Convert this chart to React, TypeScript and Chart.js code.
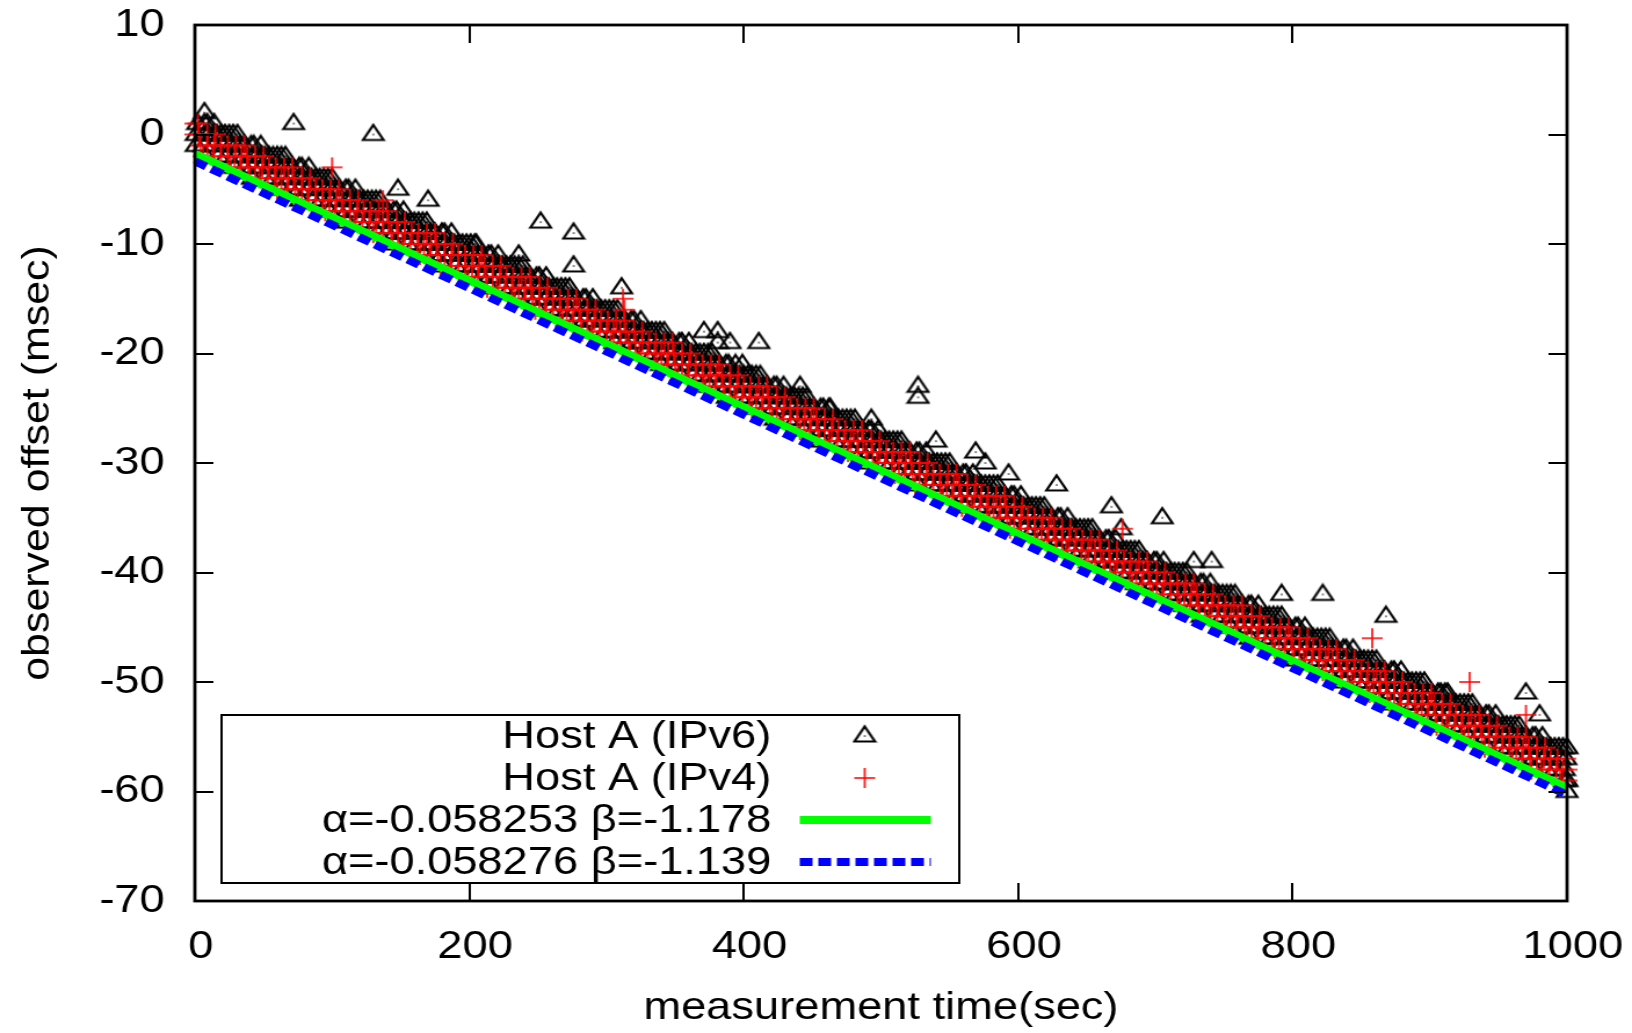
import React, { useEffect, useRef } from "react";
import { Chart, registerables } from "chart.js";

Chart.register(...registerables);

const FONT_FAMILY = "'Liberation Sans', Arial, Helvetica, sans-serif";
const FONT_SIZE = 39;

// The reference lettering is wide; the canvas is drawn narrower and widened by CSS.
const PAGE_W = 1632;
const PAGE_H = 1033;
const H_STRETCH = 1.16;
const CANVAS_W = Math.round(PAGE_W / H_STRETCH);

const X_TICKS = [0, 200, 400, 600, 800, 1000];
const Y_TICKS = [-70, -60, -50, -40, -30, -20, -10, 0, 10];

const X_TITLE = "measurement time(sec)";
const Y_TITLE = "observed offset (msec)";

const ipv6Label = "Host A (IPv6)";
const ipv4Label = "Host A (IPv4)";
const fit1Label = "α=-0.058253 β=-1.178";
const fit2Label = "α=-0.058276 β=-1.139";

// Host A (IPv6): [offset level (msec), sample times (sec) at that level]
const ipv6Rows: [number, number[]][] = [
  [1, [7, 14]],
  [0, [1, 7, 14, 19, 25, 31]],
  [-1, [1, 7, 14, 20, 26, 33, 41, 48]],
  [-2, [8, 17, 23, 30, 36, 42, 49, 54, 60, 66]],
  [-3, [29, 36, 42, 49, 55, 61, 68, 76, 83]],
  [-4, [42, 51, 57, 64, 70, 76, 83, 88, 94, 100]],
  [-5, [63, 70, 76, 83, 89, 95, 102, 110, 117]],
  [-6, [77, 86, 92, 99, 105, 111, 118, 123, 129, 135]],
  [-7, [98, 105, 111, 118, 124, 130, 137, 145, 152]],
  [-8, [111, 120, 126, 133, 139, 145, 152, 157, 163, 169]],
  [-9, [133, 140, 146, 153, 159, 165, 172, 180, 187]],
  [-10, [146, 155, 161, 168, 174, 180, 187, 192, 198, 204]],
  [-11, [167, 174, 180, 187, 193, 199, 206, 214, 221]],
  [-12, [181, 190, 196, 203, 209, 215, 222, 227, 233, 239]],
  [-13, [202, 209, 215, 222, 228, 234, 241, 249, 256]],
  [-14, [215, 224, 230, 237, 243, 249, 256, 261, 267, 273]],
  [-15, [236, 243, 249, 256, 262, 268, 275, 283, 290]],
  [-16, [250, 259, 265, 272, 278, 284, 291, 296, 302, 308]],
  [-17, [271, 278, 284, 291, 297, 303, 310, 318, 325]],
  [-18, [284, 293, 299, 306, 312, 318, 325, 330, 336, 342]],
  [-19, [306, 313, 319, 326, 332, 338, 345, 353, 360]],
  [-20, [319, 328, 334, 341, 347, 353, 360, 365, 371, 377]],
  [-21, [340, 347, 353, 360, 366, 372, 379, 387, 394]],
  [-22, [354, 363, 369, 376, 382, 388, 395, 400, 406, 412]],
  [-23, [375, 382, 388, 395, 401, 407, 414, 422, 429]],
  [-24, [388, 397, 403, 410, 416, 422, 429, 434, 440, 446]],
  [-25, [409, 416, 422, 429, 435, 441, 448, 456, 463]],
  [-26, [423, 432, 438, 445, 451, 457, 464, 469, 475, 481]],
  [-27, [444, 451, 457, 464, 470, 476, 483, 491, 498]],
  [-28, [457, 466, 472, 479, 485, 491, 498, 503, 509, 515]],
  [-29, [479, 486, 492, 499, 505, 511, 518, 526, 533]],
  [-30, [492, 501, 507, 514, 520, 526, 533, 538, 544, 550]],
  [-31, [513, 520, 526, 533, 539, 545, 552, 560, 567]],
  [-32, [527, 536, 542, 549, 555, 561, 568, 573, 579, 585]],
  [-33, [548, 555, 561, 568, 574, 580, 587, 595, 602]],
  [-34, [561, 570, 576, 583, 589, 595, 602, 607, 613, 619]],
  [-35, [582, 589, 595, 602, 608, 614, 621, 629, 636]],
  [-36, [596, 605, 611, 618, 624, 630, 637, 642, 648, 654]],
  [-37, [617, 624, 630, 637, 643, 649, 656, 664, 671]],
  [-38, [630, 639, 645, 652, 658, 664, 671, 676, 682, 688]],
  [-39, [652, 659, 665, 672, 678, 684, 691, 699, 706]],
  [-40, [665, 674, 680, 687, 693, 699, 706, 711, 717, 723]],
  [-41, [686, 693, 699, 706, 712, 718, 725, 733, 740]],
  [-42, [700, 709, 715, 722, 728, 734, 741, 746, 752, 758]],
  [-43, [721, 728, 734, 741, 747, 753, 760, 768, 775]],
  [-44, [734, 743, 749, 756, 762, 768, 775, 780, 786, 792]],
  [-45, [755, 762, 768, 775, 781, 787, 794, 802, 809]],
  [-46, [769, 778, 784, 791, 797, 803, 810, 815, 821, 827]],
  [-47, [790, 797, 803, 810, 816, 822, 829, 837, 844]],
  [-48, [803, 812, 818, 825, 831, 837, 844, 849, 855, 861]],
  [-49, [825, 832, 838, 845, 851, 857, 864, 872, 879]],
  [-50, [838, 847, 853, 860, 866, 872, 879, 884, 890, 896]],
  [-51, [859, 866, 872, 879, 885, 891, 898, 906, 913]],
  [-52, [873, 882, 888, 895, 901, 907, 914, 919, 925, 931]],
  [-53, [894, 901, 907, 914, 920, 926, 933, 941, 948]],
  [-54, [907, 916, 922, 929, 935, 941, 948, 953, 959, 965]],
  [-55, [928, 935, 941, 948, 954, 960, 967, 975, 982]],
  [-56, [942, 951, 957, 964, 970, 976, 983, 988, 994, 1000]],
  [-57, [963, 970, 976, 983, 989, 995]],
  [-58, [976, 985, 991, 998]],
  [-59, [998, 1000]],
  [-60, [1000]],
];

// Host A (IPv6), further samples sitting 2-3 msec above the floor of the band
const ipv6RowsLate: [number, number[]][] = [
  [1, [2, 9]],
  [0, [10, 16, 22, 28]],
  [-1, [30, 36, 43]],
  [-2, [45, 51, 57, 63]],
  [-3, [65, 71, 78]],
  [-4, [79, 85, 91, 97]],
  [-5, [99, 105, 112]],
  [-6, [114, 120, 126, 132]],
  [-7, [134, 140, 147]],
  [-8, [148, 154, 160, 166]],
  [-9, [169, 175, 182]],
  [-10, [183, 189, 195, 201]],
  [-11, [203, 209, 216]],
  [-12, [218, 224, 230, 236]],
  [-13, [238, 244, 251]],
  [-14, [252, 258, 264, 270]],
  [-15, [272, 278, 285]],
  [-16, [287, 293, 299, 305]],
  [-17, [307, 313, 320]],
  [-18, [321, 327, 333, 339]],
  [-19, [342, 348, 355]],
  [-20, [356, 362, 368, 374]],
  [-21, [376, 382, 389]],
  [-22, [391, 397, 403, 409]],
  [-23, [411, 417, 424]],
  [-24, [425, 431, 437, 443]],
  [-25, [445, 451, 458]],
  [-26, [460, 466, 472, 478]],
  [-27, [480, 486, 493]],
  [-28, [494, 500, 506, 512]],
  [-29, [515, 521, 528]],
  [-30, [529, 535, 541, 547]],
  [-31, [549, 555, 562]],
  [-32, [564, 570, 576, 582]],
  [-33, [584, 590, 597]],
  [-34, [598, 604, 610, 616]],
  [-35, [618, 624, 631]],
  [-36, [633, 639, 645, 651]],
  [-37, [653, 659, 666]],
  [-38, [667, 673, 679, 685]],
  [-39, [688, 694, 701]],
  [-40, [702, 708, 714, 720]],
  [-41, [722, 728, 735]],
  [-42, [737, 743, 749, 755]],
  [-43, [757, 763, 770]],
  [-44, [771, 777, 783, 789]],
  [-45, [791, 797, 804]],
  [-46, [806, 812, 818, 824]],
  [-47, [826, 832, 839]],
  [-48, [840, 846, 852, 858]],
  [-49, [861, 867, 874]],
  [-50, [875, 881, 887, 893]],
  [-51, [895, 901, 908]],
  [-52, [910, 916, 922, 928]],
  [-53, [930, 936, 943]],
  [-54, [944, 950, 956, 962]],
  [-55, [964, 970, 977]],
  [-56, [979, 985, 991, 997]],
  [-57, [999]],
];

// Host A (IPv6) isolated points: [time sec, offset msec]
const ipv6Outliers: [number, number][] = [
  [7, 2], [72, 1], [130, 0], [148, -5], [170, -6], [205, -10], [236, -11],
  [252, -8], [276, -9], [276, -12], [311, -14], [371, -18], [381, -18],
  [381, -19], [390, -19], [399, -21], [411, -19], [441, -23], [462, -25],
  [493, -26], [527, -23], [527, -24], [540, -28], [569, -29], [576, -30],
  [593, -31], [628, -32], [668, -34], [675, -36], [705, -35], [728, -39],
  [741, -39], [792, -42], [822, -42], [868, -44], [911, -51], [970, -51],
  [980, -53],
];

// Host A (IPv4): [offset level (msec), sample times (sec) at that level]
const ipv4Rows: [number, number[]][] = [
  [1, [0, 2]],
  [0, [0, 3, 9, 15]],
  [-1, [4, 9, 14, 19, 24, 30, 36]],
  [-2, [6, 13, 19, 24, 29, 34, 38, 44, 50]],
  [-3, [26, 33, 39, 44, 49, 54, 59, 65, 71]],
  [-4, [40, 47, 53, 58, 63, 68, 72, 78, 84]],
  [-5, [60, 67, 73, 78, 83, 88, 93, 99, 105]],
  [-6, [75, 82, 88, 93, 98, 103, 107, 113, 119]],
  [-7, [95, 102, 108, 113, 118, 123, 128, 134, 140]],
  [-8, [109, 116, 122, 127, 132, 137, 141, 147, 153]],
  [-9, [130, 137, 143, 148, 153, 158, 163, 169, 175]],
  [-10, [144, 151, 157, 162, 167, 172, 176, 182, 188]],
  [-11, [164, 171, 177, 182, 187, 192, 197, 203, 209]],
  [-12, [179, 186, 192, 197, 202, 207, 211, 217, 223]],
  [-13, [199, 206, 212, 217, 222, 227, 232, 238, 244]],
  [-14, [213, 220, 226, 231, 236, 241, 245, 251, 257]],
  [-15, [233, 240, 246, 251, 256, 261, 266, 272, 278]],
  [-16, [248, 255, 261, 266, 271, 276, 280, 286, 292]],
  [-17, [268, 275, 281, 286, 291, 296, 301, 307, 313]],
  [-18, [282, 289, 295, 300, 305, 310, 314, 320, 326]],
  [-19, [303, 310, 316, 321, 326, 331, 336, 342, 348]],
  [-20, [317, 324, 330, 335, 340, 345, 349, 355, 361]],
  [-21, [337, 344, 350, 355, 360, 365, 370, 376, 382]],
  [-22, [352, 359, 365, 370, 375, 380, 384, 390, 396]],
  [-23, [372, 379, 385, 390, 395, 400, 405, 411, 417]],
  [-24, [386, 393, 399, 404, 409, 414, 418, 424, 430]],
  [-25, [406, 413, 419, 424, 429, 434, 439, 445, 451]],
  [-26, [421, 428, 434, 439, 444, 449, 453, 459, 465]],
  [-27, [441, 448, 454, 459, 464, 469, 474, 480, 486]],
  [-28, [455, 462, 468, 473, 478, 483, 487, 493, 499]],
  [-29, [476, 483, 489, 494, 499, 504, 509, 515, 521]],
  [-30, [490, 497, 503, 508, 513, 518, 522, 528, 534]],
  [-31, [510, 517, 523, 528, 533, 538, 543, 549, 555]],
  [-32, [525, 532, 538, 543, 548, 553, 557, 563, 569]],
  [-33, [545, 552, 558, 563, 568, 573, 578, 584, 590]],
  [-34, [559, 566, 572, 577, 582, 587, 591, 597, 603]],
  [-35, [579, 586, 592, 597, 602, 607, 612, 618, 624]],
  [-36, [594, 601, 607, 612, 617, 622, 626, 632, 638]],
  [-37, [614, 621, 627, 632, 637, 642, 647, 653, 659]],
  [-38, [628, 635, 641, 646, 651, 656, 660, 666, 672]],
  [-39, [649, 656, 662, 667, 672, 677, 682, 688, 694]],
  [-40, [663, 670, 676, 681, 686, 691, 695, 701, 707]],
  [-41, [683, 690, 696, 701, 706, 711, 716, 722, 728]],
  [-42, [698, 705, 711, 716, 721, 726, 730, 736, 742]],
  [-43, [718, 725, 731, 736, 741, 746, 751, 757, 763]],
  [-44, [732, 739, 745, 750, 755, 760, 764, 770, 776]],
  [-45, [752, 759, 765, 770, 775, 780, 785, 791, 797]],
  [-46, [767, 774, 780, 785, 790, 795, 799, 805, 811]],
  [-47, [787, 794, 800, 805, 810, 815, 820, 826, 832]],
  [-48, [801, 808, 814, 819, 824, 829, 833, 839, 845]],
  [-49, [822, 829, 835, 840, 845, 850, 855, 861, 867]],
  [-50, [836, 843, 849, 854, 859, 864, 868, 874, 880]],
  [-51, [856, 863, 869, 874, 879, 884, 889, 895, 901]],
  [-52, [871, 878, 884, 889, 894, 899, 903, 909, 915]],
  [-53, [891, 898, 904, 909, 914, 919, 924, 930, 936]],
  [-54, [905, 912, 918, 923, 928, 933, 937, 943, 949]],
  [-55, [925, 932, 938, 943, 948, 953, 958, 964, 970]],
  [-56, [940, 947, 953, 958, 963, 968, 972, 978, 984]],
  [-57, [960, 967, 973, 978, 983, 988, 993, 999]],
  [-58, [974, 981, 987, 992, 997, 1000]],
  [-59, [995, 1000]],
];

// Host A (IPv4) isolated points: [time sec, offset msec]
const ipv4Outliers: [number, number][] = [
  [100, -3], [137, -6], [312, -15], [313, -16], [676, -36], [858, -46],
  [929, -50], [970, -53],
];

// fitted lines as drawn: [time sec, offset msec] end points
const fit1Line: [number, number][] = [[0, -1.75], [1000, -59.65]];
const fit2Line: [number, number][] = [[0, -2.45], [1000, -60.3]];

const rowsToXY = (rowSets: [number, number[]][][], extra: [number, number][]) => {
  const out: { x: number; y: number }[] = [];
  for (const rows of rowSets)
    for (const [level, times] of rows) for (const t of times) out.push({ x: t, y: level });
  for (const [x, y] of extra) out.push({ x, y });
  return out;
};
const toXY = (pts: [number, number][]) => pts.map(([x, y]) => ({ x, y }));

function makeTriangle(): HTMLCanvasElement {
  const c = document.createElement("canvas");
  c.width = 22;
  c.height = 24;
  const g = c.getContext("2d")!;
  g.strokeStyle = "#000";
  g.lineWidth = 2.2;
  g.beginPath();
  g.moveTo(11, 2.5);
  g.lineTo(19.8, 17.5);
  g.lineTo(2.2, 17.5);
  g.closePath();
  g.stroke();
  g.fillStyle = "#333";
  g.fillRect(10.3, 11.3, 1.5, 1.5);
  return c;
}

function makePlus(): HTMLCanvasElement {
  const c = document.createElement("canvas");
  c.width = 22;
  c.height = 24;
  const g = c.getContext("2d")!;
  g.strokeStyle = "#ff0000";
  g.lineWidth = 1.6;
  g.beginPath();
  g.moveTo(2, 12);
  g.lineTo(20, 12);
  g.moveTo(11, 2);
  g.lineTo(11, 22);
  g.stroke();
  return c;
}

const font = { family: FONT_FAMILY, size: FONT_SIZE };

export default function App() {
  const canvasRef = useRef<HTMLCanvasElement | null>(null);

  useEffect(() => {
    const canvas = canvasRef.current;
    if (!canvas) return;
    const tri = makeTriangle();
    const plus = makePlus();

    const framePlugin = {
      id: "gnuFrame",
      afterDatasetsDraw(chart: any) {
        const { ctx, chartArea: a, scales } = chart;
        ctx.save();
        ctx.strokeStyle = "#000";
        ctx.lineWidth = 2;
        ctx.beginPath();
        for (const v of X_TICKS) {
          const px = Math.round(scales.x.getPixelForValue(v));
          ctx.moveTo(px, a.bottom);
          ctx.lineTo(px, a.bottom - 18);
          ctx.moveTo(px, a.top);
          ctx.lineTo(px, a.top + 18);
        }
        for (const v of Y_TICKS) {
          const py = Math.round(scales.y.getPixelForValue(v));
          ctx.moveTo(a.left, py);
          ctx.lineTo(a.left + 16, py);
          ctx.moveTo(a.right, py);
          ctx.lineTo(a.right - 16, py);
        }
        ctx.stroke();
        ctx.lineWidth = 2.8;
        ctx.strokeRect(a.left, a.top, a.right - a.left, a.bottom - a.top);
        ctx.restore();
      },
      afterDraw(chart: any) {
        const { ctx, chartArea: a } = chart;
        // y-axis title (rotated; lettering widened along its baseline)
        ctx.save();
        ctx.fillStyle = "#000";
        ctx.font = `${FONT_SIZE}px ${FONT_FAMILY}`;
        ctx.textAlign = "center";
        ctx.textBaseline = "middle";
        ctx.translate(33, (a.top + a.bottom) / 2);
        ctx.rotate(-Math.PI / 2);
        ctx.scale(1.1, 1 / H_STRETCH);
        ctx.fillText(Y_TITLE, 0, 0);
        ctx.restore();

        // key box
        const boxL = a.left + 23;
        const boxT = a.top + 690;
        const boxR = a.left + 659;
        const boxB = a.top + 858;
        ctx.save();
        ctx.fillStyle = "#fff";
        ctx.fillRect(boxL, boxT, boxR - boxL, boxB - boxT);
        ctx.strokeStyle = "#000";
        ctx.lineWidth = 2;
        ctx.strokeRect(boxL, boxT, boxR - boxL, boxB - boxT);
        const textR = a.left + 497;
        const sampleC = a.left + 577.5;
        const lineL = a.left + 521.5;
        const lineR = a.left + 634.5;
        ctx.font = `${FONT_SIZE}px ${FONT_FAMILY}`;
        ctx.textAlign = "right";
        ctx.textBaseline = "middle";
        ctx.fillStyle = "#000";
        const ds = chart.data.datasets;
        ds.forEach((d: any, i: number) => {
          const y = a.top + 711 + i * 42;
          ctx.fillText(d.label, textR, y + 1);
          if (d.showLine) {
            ctx.save();
            ctx.strokeStyle = d.borderColor;
            ctx.lineWidth = d.borderWidth;
            ctx.setLineDash(d.borderDash || []);
            ctx.lineCap = "butt";
            ctx.beginPath();
            ctx.moveTo(lineL, y);
            ctx.lineTo(lineR, y);
            ctx.stroke();
            ctx.restore();
          } else {
            const img = d.pointStyle as HTMLCanvasElement;
            ctx.drawImage(img, sampleC - img.width / 2, y - img.height / 2);
          }
        });
        ctx.restore();
      },
    };

    const chart = new Chart(canvas, {
      type: "scatter",
      data: {
        datasets: [
          {
            label: ipv6Label,
            data: rowsToXY([ipv6Rows, ipv6RowsLate], ipv6Outliers),
            pointStyle: tri as any,
            pointRadius: 11,
            showLine: false,
            clip: false as any,
            order: 4,
          },
          {
            label: ipv4Label,
            data: rowsToXY([ipv4Rows], ipv4Outliers),
            pointStyle: plus as any,
            pointRadius: 11,
            showLine: false,
            clip: false as any,
            order: 3,
          },
          {
            label: fit1Label,
            data: toXY(fit1Line),
            showLine: true,
            borderColor: "#00ff00",
            borderWidth: 8,
            borderCapStyle: "butt",
            pointRadius: 0,
            order: 2,
          },
          {
            label: fit2Label,
            data: toXY(fit2Line),
            showLine: true,
            borderColor: "#0000ff",
            borderWidth: 8,
            borderDash: [11, 5],
            borderCapStyle: "butt",
            pointRadius: 0,
            order: 1,
          },
        ] as any,
      },
      options: {
        animation: false,
        responsive: false,
        devicePixelRatio: 1,
        events: [],
        layout: { padding: { top: 25, right: CANVAS_W - 1351, left: 0, bottom: 0 } },
        plugins: {
          legend: { display: false },
          tooltip: { enabled: false },
        },
        scales: {
          x: {
            type: "linear",
            min: 0,
            max: 1000,
            afterBuildTicks: (s: any) => {
              s.ticks = X_TICKS.map((v) => ({ value: v }));
            },
            afterFit: (s: any) => {
              s.height = 132;
              s.paddingLeft = 0;
              s.paddingRight = 0;
            },
            grid: { display: false, drawTicks: false },
            border: { display: false },
            ticks: {
              color: "#000",
              font,
              padding: 23,
              labelOffset: 5,
              autoSkip: false,
              maxRotation: 0,
              callback: (v: any) => String(v),
            },
            title: {
              display: true,
              text: X_TITLE,
              color: "#000",
              font,
              padding: { top: 0, bottom: 1 },
            },
          },
          y: {
            type: "linear",
            min: -70,
            max: 10,
            afterBuildTicks: (s: any) => {
              s.ticks = Y_TICKS.map((v) => ({ value: v }));
            },
            afterFit: (s: any) => {
              s.width = 168;
              s.paddingTop = 0;
              s.paddingBottom = 0;
            },
            grid: { display: false, drawTicks: false },
            border: { display: false },
            ticks: {
              color: "#000",
              font,
              padding: 26,
              autoSkip: false,
              callback: (v: any) => String(v),
            },
            title: { display: false },
          },
        },
      } as any,
      plugins: [framePlugin],
    });

    return () => {
      chart.destroy();
    };
  }, []);

  return (
    <div
      style={{
        position: "fixed",
        left: 0,
        top: 0,
        width: PAGE_W,
        height: PAGE_H,
        background: "#fff",
      }}
    >
      <canvas
        ref={canvasRef}
        width={CANVAS_W}
        height={PAGE_H}
        style={{ display: "block", width: PAGE_W + "px", height: PAGE_H + "px" }}
      />
    </div>
  );
}
